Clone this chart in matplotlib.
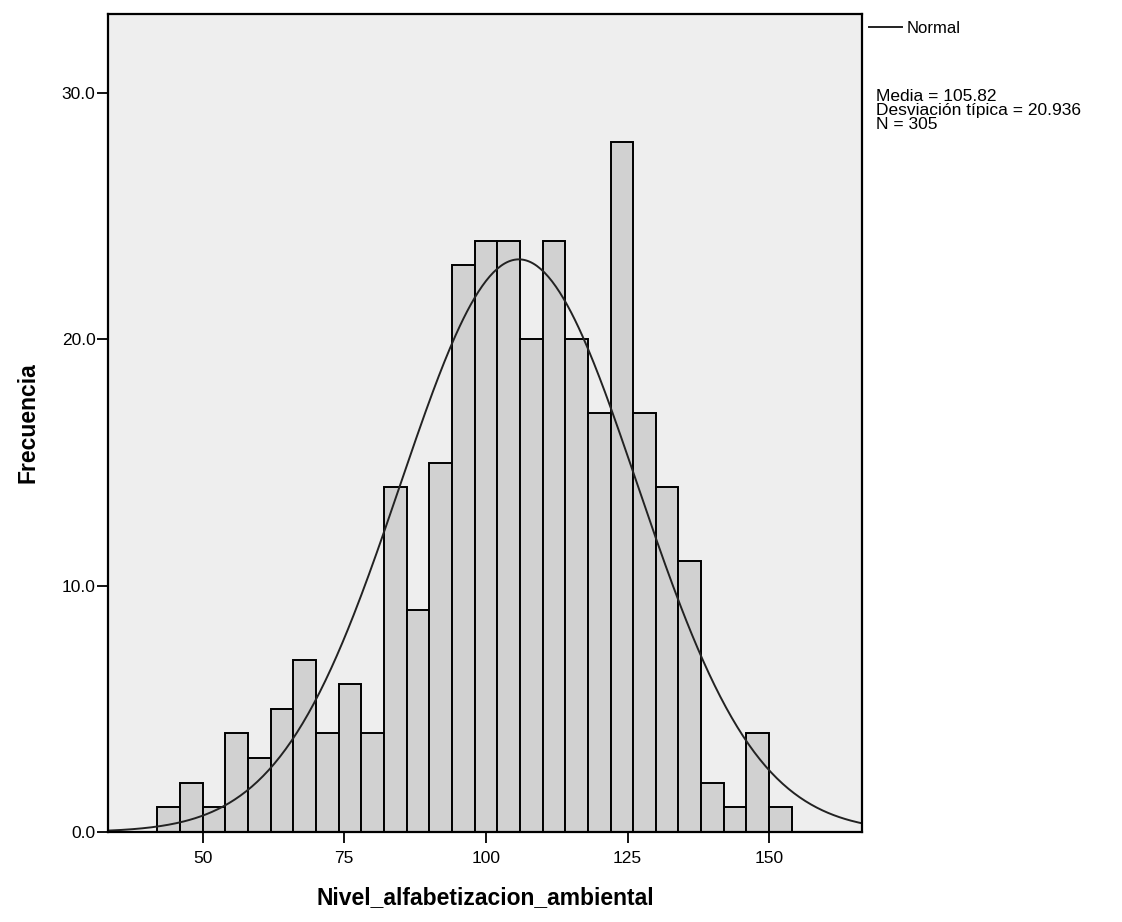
import numpy as np
import matplotlib
matplotlib.use("Agg")
import matplotlib.pyplot as plt

plt.rcParams['font.family'] = ['Liberation Sans', 'DejaVu Sans']

# histogram data (bins of width 4)
bin_edges = [42, 46, 50, 54, 58, 62, 66, 70, 74, 78, 82, 86, 90, 94, 98, 102,
             106, 110, 114, 118, 122, 126, 130, 134, 138, 142, 146, 150, 154]
counts = [1, 2, 1, 4, 3, 5, 7, 4, 6, 4, 14, 9, 15, 23, 24, 24,
          20, 24, 20, 17, 28, 17, 14, 11, 2, 1, 4, 1]
media = 105.82
desv = 20.936
n = 305
x_ticks = [50, 75, 100, 125, 150]
y_ticks = [0, 10, 20, 30]

fig = plt.figure(figsize=(11.22, 9.22), dpi=100)
ax = fig.add_axes([0.0963, 0.0976, 0.672, 0.887])
ax.set_facecolor('#eeeeee')

left = np.array(bin_edges[:-1])
width = np.diff(bin_edges)
ax.bar(left, counts, width=width, align='edge', color='#d1d1d1',
       edgecolor='black', linewidth=1.4)

# normal curve scaled to counts
xmin, xmax = 33.3, 166.4
xs = np.linspace(xmin, xmax, 400)
bw = bin_edges[1] - bin_edges[0]
pdf = np.exp(-0.5 * ((xs - media) / desv) ** 2) / (desv * np.sqrt(2 * np.pi))
ax.plot(xs, pdf * n * bw, color='#222222', linewidth=1.4, label='Normal')

ax.set_xlim(xmin, xmax)
ax.set_ylim(0, 33.2)
ax.set_xticks(x_ticks)
ax.set_yticks(y_ticks)
ax.set_yticklabels(['%.1f' % v for v in y_ticks])
ax.tick_params(axis='both', direction='out', length=8, width=1.3,
               labelsize=12.5, colors='black')
ax.tick_params(axis='x', pad=6)
ax.tick_params(axis='y', pad=1)
for s in ax.spines.values():
    s.set_linewidth(1.6)

ax.set_xlabel('Nivel_alfabetizacion_ambiental', fontsize=16.5, fontweight='bold',
              labelpad=14)
ax.set_ylabel('Frecuencia', fontsize=16.5, fontweight='bold', labelpad=16)

ax.legend(loc='upper left', bbox_to_anchor=(1.0, 1.0), frameon=False,
          fontsize=12, handlelength=2.0, handletextpad=0.3, borderaxespad=0.2,
          borderpad=0.2)

fig.text(0.781, 0.903,
         'Media = %.2f\nDesviación típica = %.3f\nN = %d' % (media, desv, n),
         fontsize=12.5, va='top', ha='left', linespacing=0.9)

fig.savefig('out.png', dpi=100)
